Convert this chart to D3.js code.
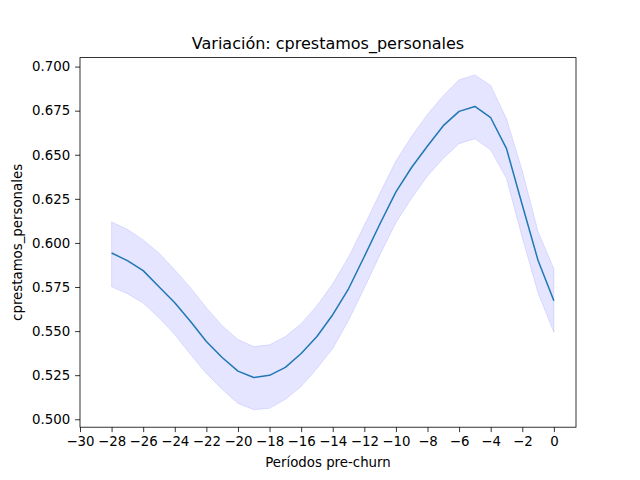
<!DOCTYPE html>
<html>
<head>
<meta charset="utf-8">
<script src="https://cdn.jsdelivr.net/npm/d3@7"></script>
<style>
	body { margin: 0; background: #fff; }
	text { font-family: "DejaVu Sans", sans-serif; }
</style>
</head>
<body>
<div id="chart"></div>
<script>

// Periods before churn:
var periods = [-28, -27, -26, -25, -24, -23, -22, -21, -20, -19, -18, -17, -16, -15,
	-14, -13, -12, -11, -10, -9, -8, -7, -6, -5, -4, -3, -2, -1, 0];

// Mean of cprestamos_personales per period:
var meanValues = [0.5943, 0.5900, 0.5843, 0.5751, 0.5661, 0.5554, 0.5441, 0.5350, 0.5273, 0.5237,
	0.5249, 0.5294, 0.5373, 0.5469, 0.5593, 0.5740, 0.5923, 0.6110, 0.6290, 0.6429,
	0.6550, 0.6665, 0.6746, 0.6774, 0.6710, 0.6535, 0.6215, 0.5900, 0.5672];

// Confidence band:
var upperValues = [0.6119, 0.6077, 0.6017, 0.5943, 0.5847, 0.5746, 0.5633, 0.5531, 0.5452, 0.5412,
	0.5422, 0.5469, 0.5542, 0.5644, 0.5768, 0.5920, 0.6100, 0.6285, 0.6465, 0.6605,
	0.6730, 0.6835, 0.6925, 0.6953, 0.6893, 0.6704, 0.6410, 0.6064, 0.5853];

var lowerValues = [0.5751, 0.5712, 0.5659, 0.5576, 0.5480, 0.5367, 0.5260, 0.5170, 0.5090, 0.5054,
	0.5062, 0.5113, 0.5186, 0.5288, 0.5401, 0.5560, 0.5745, 0.5935, 0.6115, 0.6255,
	0.6380, 0.6480, 0.6563, 0.6591, 0.6527, 0.6365, 0.6030, 0.5715, 0.5493];

var xTicks = d3.range(-30, 1, 2);
var yTicks = d3.range(0, 9).map(function(i) { return 0.5 + i * 0.025; });

var width = 640,
	height = 480,
	margin = [57.6, 64, 52.8, 80]; // top, right, bottom, left

var graph = { width: width - margin[1] - margin[3], height: height - margin[0] - margin[2] };

var svg = d3.select('#chart').append('svg')
	.attr('width', width)
	.attr('height', height);

var chart = svg.append('g')
	.attr('transform', 'translate(' + margin[3] + ',' + margin[0] + ')');

var x = d3.scaleLinear().domain([-30, 1.4]).range([0, graph.width]);
var y = d3.scaleLinear().domain([0.4955, 0.7051]).range([graph.height, 0]);

var rows = periods.map(function(p, i) {
	return { p: p, m: meanValues[i], hi: upperValues[i], lo: lowerValues[i] };
});

// Band:
chart.append('path')
	.datum(rows)
	.attr('d', d3.area()
		.x(function(d) { return x(d.p); })
		.y0(function(d) { return y(d.lo); })
		.y1(function(d) { return y(d.hi); }))
	.attr('fill', 'rgba(0,0,255,0.1)')
	.attr('stroke', 'rgba(0,0,255,0.1)')
	.attr('stroke-width', 1);

// Mean line:
chart.append('path')
	.datum(rows)
	.attr('d', d3.line()
		.x(function(d) { return x(d.p); })
		.y(function(d) { return y(d.m); }))
	.attr('fill', 'none')
	.attr('stroke', '#1f77b4')
	.attr('stroke-width', 1.5)
	.attr('stroke-linejoin', 'round');

var minus = function(s) { return s.replace('-', '\u2212'); };

// Axes:
var xAxis = chart.append('g')
	.attr('transform', 'translate(0,' + graph.height + ')')
	.call(d3.axisBottom(x).tickValues(xTicks).tickSize(4.9).tickPadding(4.9)
		.tickFormat(function(d) { return minus(String(d)); }));

var yAxis = chart.append('g')
	.call(d3.axisLeft(y).tickValues(yTicks).tickSize(4.9).tickPadding(4.9)
		.tickFormat(d3.format('.3f')));

[xAxis, yAxis].forEach(function(a) {
	a.select('.domain').remove();
	a.selectAll('.tick line').attr('stroke', '#000').attr('stroke-width', 0.8);
	a.selectAll('.tick text').attr('fill', '#000')
		.style('font-size', '13.33px').style('font-family', '"DejaVu Sans", sans-serif');
});

// Frame:
chart.append('rect')
	.attr('width', graph.width)
	.attr('height', graph.height)
	.attr('fill', 'none')
	.attr('stroke', '#000')
	.attr('stroke-width', 0.8);

// Labels:
svg.append('text')
	.attr('x', margin[3] + graph.width / 2)
	.attr('y', margin[0] - 9)
	.attr('text-anchor', 'middle')
	.style('font-size', '16px')
	.text('Variación: cprestamos_personales');

svg.append('text')
	.attr('x', margin[3] + graph.width / 2)
	.attr('y', 467)
	.attr('text-anchor', 'middle')
	.style('font-size', '13.33px')
	.text('Períodos pre-churn');

svg.append('text')
	.attr('transform', 'translate(22,' + (margin[0] + graph.height / 2) + ') rotate(-90)')
	.attr('text-anchor', 'middle')
	.style('font-size', '13.33px')
	.text('cprestamos_personales');

</script>
</body>
</html>
